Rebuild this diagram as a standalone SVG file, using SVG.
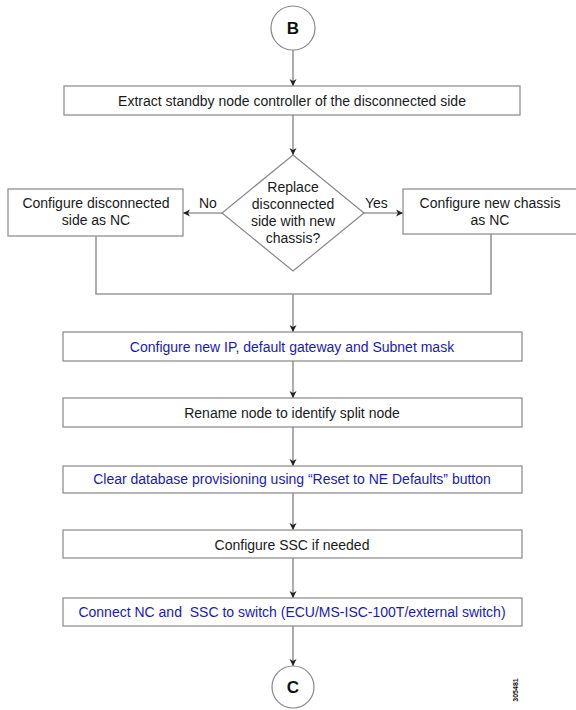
<svg xmlns="http://www.w3.org/2000/svg" width="576" height="710" viewBox="0 0 576 710">
<defs>
<marker id="arr" markerWidth="8" markerHeight="8" refX="7" refY="4" orient="auto" markerUnits="userSpaceOnUse">
<path d="M0,0.5 L7,4 L0,7.5 L2,4 Z" fill="#222"/>
</marker>
<style>
.box{fill:#fff;stroke:#888;stroke-width:1.2}
.ln{fill:none;stroke:#999;stroke-width:1.6}
.t{font-family:"Liberation Sans",Arial,sans-serif;font-size:14px;fill:#1a1a1a;text-anchor:middle;white-space:pre}
.b{fill:#1a1ab4}
.lab{font-family:"Liberation Sans",Arial,sans-serif;font-size:14px;fill:#1a1a1a}
.circ{font-family:"Liberation Sans",Arial,sans-serif;font-size:17px;font-weight:bold;fill:#111;text-anchor:middle}
</style>
</defs>
<rect width="576" height="710" fill="#fff"/>
<g id="connectors">
<line class="ln" x1="293" y1="50" x2="293" y2="86" marker-end="url(#arr)"/>
<line class="ln" x1="293" y1="115" x2="293" y2="155" marker-end="url(#arr)"/>
<line class="ln" x1="222" y1="213" x2="183" y2="213" marker-end="url(#arr)"/>
<line class="ln" x1="364" y1="213" x2="403" y2="213" marker-end="url(#arr)"/>
<polyline class="ln" points="96,236 96,294 491,294 491,234"/>
<line class="ln" x1="293" y1="294" x2="293" y2="332" marker-end="url(#arr)"/>
<line class="ln" x1="293" y1="361" x2="293" y2="398" marker-end="url(#arr)"/>
<line class="ln" x1="293" y1="427" x2="293" y2="466" marker-end="url(#arr)"/>
<line class="ln" x1="293" y1="493" x2="293" y2="530" marker-end="url(#arr)"/>
<line class="ln" x1="293" y1="558" x2="293" y2="598" marker-end="url(#arr)"/>
<line class="ln" x1="293" y1="626" x2="293" y2="666" marker-end="url(#arr)"/>
<text class="lab" x="199" y="208">No</text>
<text class="lab" x="365" y="208">Yes</text>
</g>
<g id="startB">
<circle cx="293" cy="28" r="22" fill="#fff" stroke="#888" stroke-width="1.2"/>
<text class="circ" x="293" y="34">B</text>
</g>
<g id="extract">
<rect class="box" x="64" y="86" width="456" height="29"/>
<text class="t" x="292" y="106">Extract standby node controller of the disconnected side</text>
</g>
<g id="decision">
<polygon class="box" points="293,155 364,213 293,271 222,213"/>
<text class="t" x="293" y="192">Replace</text>
<text class="t" x="293" y="209">disconnected</text>
<text class="t" x="293" y="226">side with new</text>
<text class="t" x="293" y="243">chassis?</text>
</g>
<g id="configDisc">
<rect class="box" x="8" y="189" width="175" height="47"/>
<text class="t" x="96" y="208">Configure disconnected</text>
<text class="t" x="96" y="225">side as NC</text>
</g>
<g id="configNew">
<rect class="box" x="403" y="189" width="180" height="45"/>
<text class="t" x="490" y="208">Configure new chassis</text>
<text class="t" x="490" y="225">as NC</text>
</g>
<g id="configIP">
<rect class="box" x="63" y="332" width="459" height="29"/>
<text class="t b" x="292" y="352">Configure new IP, default gateway and Subnet mask</text>
</g>
<g id="rename">
<rect class="box" x="63" y="398" width="459" height="29"/>
<text class="t" x="292" y="418">Rename node to identify split node</text>
</g>
<g id="clearDb">
<rect class="box" x="63" y="466" width="459" height="27"/>
<text class="t b" x="292" y="484">Clear database provisioning using “Reset to NE Defaults” button</text>
</g>
<g id="configSSC">
<rect class="box" x="63" y="530" width="459" height="28"/>
<text class="t" x="292" y="550">Configure SSC if needed</text>
</g>
<g id="connect">
<rect class="box" x="63" y="598" width="459" height="28"/>
<text class="t b" x="292" y="617">Connect NC and  SSC to switch (ECU/MS-ISC-100T/external switch)</text>
</g>
<g id="endC">
<circle cx="293" cy="687" r="21" fill="#fff" stroke="#888" stroke-width="1.2"/>
<text class="circ" x="293" y="693">C</text>
</g>
<text x="0" y="0" transform="translate(518,690) rotate(-90)" font-family="Liberation Sans,Arial,sans-serif" font-size="7" font-weight="bold" fill="#111" text-anchor="middle">305481</text>
</svg>
